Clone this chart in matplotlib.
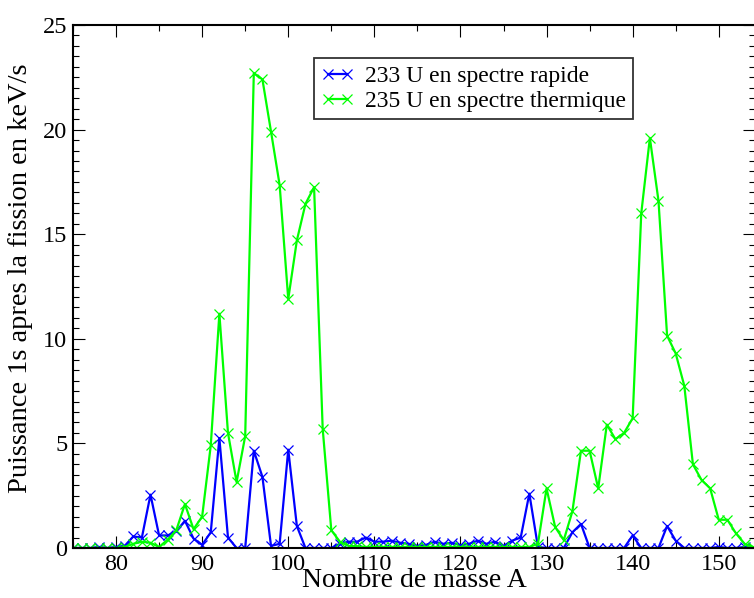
import matplotlib
matplotlib.use("Agg")
import matplotlib.pyplot as plt
from matplotlib.ticker import MultipleLocator

mass_A = list(range(75, 155))

u233_fast = [0, 0, 0, 0.05, 0, 0.05, 0.1, 0.55, 0.5, 2.55,
             0.6, 0.6, 0.8, 1.3, 0.45, 0.15, 0.75, 5.25, 0.5, 0,
             0, 4.65, 3.4, 0.1, 0.2, 4.7, 1.05, 0, 0, 0,
             0, 0.2, 0.3, 0.3, 0.5, 0.3, 0.3, 0.35, 0.25, 0.2,
             0.1, 0.15, 0.3, 0.2, 0.25, 0.13, 0.2, 0.35, 0.2, 0.3,
             0.1, 0.35, 0.5, 2.6, 0.05, 0, 0, 0, 0.75, 1.15,
             0, 0, 0, 0, 0, 0.6, 0, 0, 0, 1.05,
             0.35, 0, 0, 0, 0, 0.05, 0, 0, 0.05, 0]

u235_thermal = [0, 0, 0, 0, 0, 0, 0.05, 0.2, 0.3, 0.25,
                0.05, 0.4, 0.85, 2.1, 0.9, 1.5, 4.9, 11.2, 5.5, 3.15,
                5.35, 22.7, 22.4, 19.9, 17.35, 11.9, 14.7, 16.45, 17.25, 5.7,
                0.85, 0.3, 0.1, 0.08, 0.05, 0.05, 0.05, 0.05, 0.05, 0.05,
                0.05, 0.05, 0.05, 0.05, 0.05, 0.05, 0.05, 0.05, 0.05, 0.05,
                0.05, 0.05, 0.05, 0.05, 0.2, 2.85, 1.0, 0.38, 1.75, 4.65,
                4.65, 2.85, 5.9, 5.2, 5.5, 6.2, 16.0, 19.6, 16.6, 10.15,
                9.3, 7.75, 4.0, 3.25, 2.85, 1.35, 1.35, 0.7, 0.2, 0.05]

label_fast = "233 U en spectre rapide"
label_thermal = "235 U en spectre thermique"
xlabel = "Nombre de masse A"
ylabel = "Puissance 1s apres la fission en keV/s"

plt.rcParams['font.family'] = ['Liberation Serif', 'DejaVu Serif']

W, H = 754, 598
fig = plt.figure(figsize=(W / 100, H / 100), dpi=100)
ax = fig.add_axes([73 / W, (H - 548) / H, 682 / W, 523 / H])

ax.plot(mass_A, u233_fast, color='#0000ff', lw=1.6, marker='x', ms=6.5, mew=0.9,
        label=label_fast)
ax.plot(mass_A, u235_thermal, color='#00ff00', lw=1.6, marker='x', ms=6.5, mew=0.9,
        label=label_thermal)

ax.set_xlim(75, 75 + 682 / 8.61)
ax.set_ylim(0, 25)
ax.xaxis.set_major_locator(MultipleLocator(10))
ax.xaxis.set_minor_locator(MultipleLocator(5))
ax.yaxis.set_major_locator(MultipleLocator(5))
ax.yaxis.set_minor_locator(MultipleLocator(0.5))
ax.tick_params(which='both', direction='in', top=True, right=True,
               labelsize=17.5, width=0.8, pad=4)
ax.tick_params(which='major', length=8.5)
ax.tick_params(which='minor', length=4.3)
for s in ax.spines.values():
    s.set_linewidth(1.5)

ax.set_xlabel(xlabel, fontsize=20, labelpad=-5)
ax.set_ylabel(ylabel, fontsize=20.5)
ax.yaxis.set_label_coords(-0.058, 0.515)

leg = ax.legend(loc='upper left', bbox_to_anchor=((314 - 73) / 682, (548 - 58.3) / 523),
                borderaxespad=0, fontsize=17, numpoints=2, handlelength=1.4,
                handletextpad=0.45, borderpad=0.3, labelspacing=0.15,
                fancybox=False, framealpha=1, edgecolor='#333333')
leg.get_frame().set_linewidth(1.3)

fig.savefig('out.png', dpi=100)
